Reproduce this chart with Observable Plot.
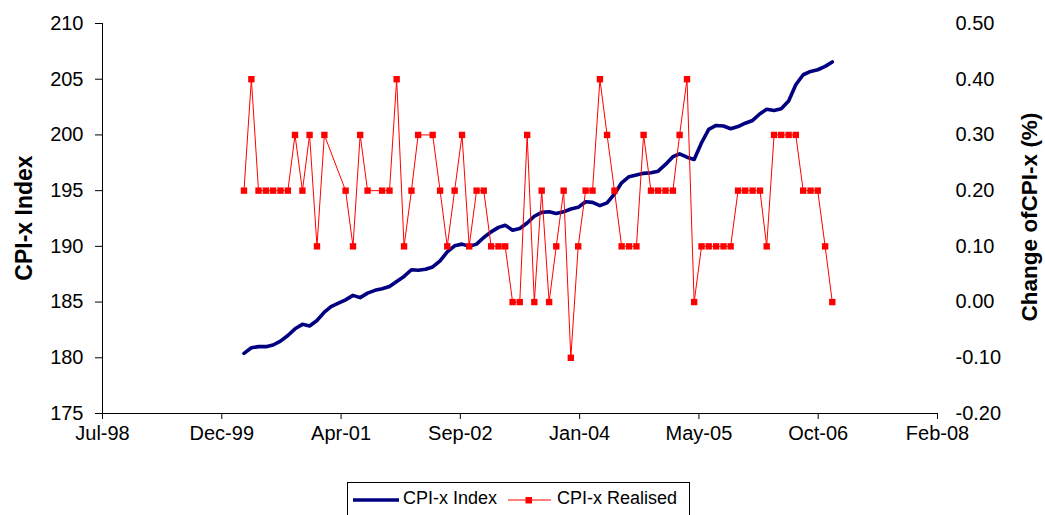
<!DOCTYPE html>
<html>
<head>
<meta charset="utf-8">
<script src="https://cdn.jsdelivr.net/npm/d3@7"></script>
<script src="https://cdn.jsdelivr.net/npm/@observablehq/plot@0.6"></script>
<style>
  html, body { margin: 0; padding: 0; background: #fff; }
  #wrap { position: relative; width: 1045px; height: 515px; overflow: hidden; font-family: Arial, "Liberation Sans", sans-serif; }
  #wrap svg { position: absolute; left: 0; top: 0; }
  .ytitle { position: absolute; transform: translate(-50%, -50%) rotate(-90deg); white-space: nowrap; font-weight: bold; color: #000; }
  #legend { position: absolute; left: 347px; top: 482px; width: 341px; height: 40px; border: 1px solid #000; background: #fff; font-size: 18px; }
  #legend .t { position: absolute; top: 5px; white-space: nowrap; color: #000; }
  #legend svg { position: absolute; left: 0; top: 0; }
</style>
</head>
<body>
<div id="wrap"></div>
<script>
// ---- data ----
const months = [
  "2000-03","2000-04","2000-05","2000-06","2000-07","2000-08","2000-09","2000-10","2000-11","2000-12",
  "2001-01","2001-02","2001-03","2001-04","2001-05","2001-06","2001-07","2001-08","2001-09","2001-10","2001-11","2001-12",
  "2002-01","2002-02","2002-03","2002-04","2002-05","2002-06","2002-07","2002-08","2002-09","2002-10","2002-11","2002-12",
  "2003-01","2003-02","2003-03","2003-04","2003-05","2003-06","2003-07","2003-08","2003-09","2003-10","2003-11","2003-12",
  "2004-01","2004-02","2004-03","2004-04","2004-05","2004-06","2004-07","2004-08","2004-09","2004-10","2004-11","2004-12",
  "2005-01","2005-02","2005-03","2005-04","2005-05","2005-06","2005-07","2005-08","2005-09","2005-10","2005-11","2005-12",
  "2006-01","2006-02","2006-03","2006-04","2006-05","2006-06","2006-07","2006-08","2006-09","2006-10","2006-11","2006-12"
];
const cpiIndex = [
  180.4, 180.9, 181.0, 181.0, 181.15, 181.5, 182.0, 182.6, 183.0, 182.85,
  183.35, 184.1, 184.6, 184.9, 185.2, 185.6, 185.4, 185.8, 186.05, 186.2, 186.4, 186.85,
  187.3, 187.9, 187.85, 187.95, 188.15, 188.7, 189.5, 190.05, 190.2, 190.0, 190.2, 190.8,
  191.3, 191.7, 191.9, 191.45, 191.6, 192.1, 192.7, 193.05, 193.1, 192.95, 193.1, 193.35,
  193.5, 194.0, 193.95, 193.65, 193.9, 194.7, 195.7, 196.25, 196.4, 196.55, 196.6, 196.75,
  197.35, 198.05, 198.3, 198.0, 197.8, 199.3, 200.5, 200.85, 200.8, 200.55, 200.75, 201.05,
  201.3, 201.9, 202.3, 202.2, 202.35, 203.05, 204.5, 205.4, 205.7, 205.85, 206.15, 206.55
];
const cpiRealised = [
  0.2, 0.4, 0.2, 0.2, 0.2, 0.2, 0.2, 0.3, 0.2, 0.3,
  0.1, 0.3, null, null, 0.2, 0.1, 0.3, 0.2, null, 0.2, 0.2, 0.4,
  0.1, 0.2, 0.3, null, 0.3, 0.2, 0.1, 0.2, 0.3, 0.1, 0.2, 0.2,
  0.1, 0.1, 0.1, 0.0, 0.0, 0.3, 0.0, 0.2, 0.0, 0.1, 0.2, -0.1,
  0.1, 0.2, 0.2, 0.4, 0.3, 0.2, 0.1, 0.1, 0.1, 0.3, 0.2, 0.2,
  0.2, 0.2, 0.3, 0.4, 0.0, 0.1, 0.1, 0.1, 0.1, 0.1, 0.2, 0.2,
  0.2, 0.2, 0.1, 0.3, 0.3, 0.3, 0.3, 0.2, 0.2, 0.2, 0.1, 0.0
];
const leftTicks = [175, 180, 185, 190, 195, 200, 205, 210];
const rightTicks = [-0.2, -0.1, 0.0, 0.1, 0.2, 0.3, 0.4, 0.5];
const xAxisStart = "1998-07-24";
const xAxisStepDays = 500;
const xAxisSteps = 7;
const leftTitle = "CPI-x Index";
const rightTitle = "Change ofCPI-x (%)";
const seriesNames = ["CPI-x Index", "CPI-x Realised"];

// ---- build ----
const parseMonth = d3.utcParse("%Y-%m");
const dates = months.map(m => d3.utcDay.offset(parseMonth(m), 7));
const x0 = d3.utcParse("%Y-%m-%d")(xAxisStart);
const xTicks = d3.range(xAxisSteps + 1).map(k => d3.utcDay.offset(x0, k * xAxisStepDays));
const xDomain = [xTicks[0], xTicks[xTicks.length - 1]];

// secondary axis mapped onto primary scale
const [lMin, lMax] = [leftTicks[0], leftTicks[leftTicks.length - 1]];
const [rMin, rMax] = [rightTicks[0], rightTicks[rightTicks.length - 1]];
const toLeft = v => lMin + (v - rMin) * (lMax - lMin) / (rMax - rMin);
const toRight = v => rMin + (v - lMin) * (rMax - rMin) / (lMax - lMin);

const idx = dates.map((d, i) => ({date: d, value: cpiIndex[i]}));
const real = dates.map((d, i) => ({date: d, value: cpiRealised[i]})).filter(d => d.value != null);

const chart = Plot.plot({
  width: 1045,
  height: 470,
  marginLeft: 102,
  marginRight: 108,
  marginTop: 23,
  marginBottom: 57,
  style: {fontFamily: "Arial, 'Liberation Sans', sans-serif", fontSize: "20px", color: "#000", background: "transparent", overflow: "visible"},
  x: {type: "utc", domain: xDomain},
  y: {domain: [lMin, lMax]},
  marks: [
    Plot.axisY({ticks: leftTicks, tickSize: 7, tickPadding: 12, label: null, stroke: "#000", fill: "#000"}),
    Plot.axisY({anchor: "right", ticks: rightTicks.map(toLeft), tickSize: 0, tickPadding: 18, label: null,
      textAnchor: "start", fill: "#000", tickFormat: v => toRight(v).toFixed(2).replace("-0.00", "0.00")}),
    Plot.axisX({ticks: xTicks, tickSize: 6, tickPadding: 6, label: null, stroke: "#000", fill: "#000",
      tickFormat: d3.utcFormat("%b-%y")}),
    Plot.ruleX([xDomain[0]], {stroke: "#000"}),
    Plot.ruleY([lMin], {stroke: "#000"}),
    Plot.line(idx, {x: "date", y: "value", stroke: "#000080", strokeWidth: 3.6, curve: "linear"}),
    Plot.line(real, {x: "date", y: d => toLeft(d.value), stroke: "#ff0000", strokeWidth: 1}),
    Plot.dot(real, {x: "date", y: d => toLeft(d.value), symbol: "square", r: 3.6, fill: "#ff0000", stroke: "none"})
  ]
});

const wrap = document.getElementById("wrap");
wrap.appendChild(chart);

const lt = document.createElement("div");
lt.className = "ytitle";
lt.style.cssText = "left:24px;top:218px;font-size:23px;";
lt.textContent = leftTitle;
wrap.appendChild(lt);

const rt = document.createElement("div");
rt.className = "ytitle";
rt.style.cssText = "left:1030px;top:217px;font-size:22.5px;";
rt.textContent = rightTitle;
wrap.appendChild(rt);

// legend
const lg = document.createElement("div");
lg.id = "legend";
lg.innerHTML = `
<svg width="341" height="40">
  <line x1="5" x2="51" y1="17" y2="17" stroke="#000080" stroke-width="3.6"/>
  <line x1="160" x2="203" y1="17" y2="17" stroke="#ff0000" stroke-width="1"/>
  <rect x="177.5" y="14" width="6.5" height="6.5" fill="#ff0000"/>
</svg>
<div class="t" style="left:55px">${seriesNames[0]}</div>
<div class="t" style="left:209px">${seriesNames[1]}</div>`;
wrap.appendChild(lg);
</script>
</body>
</html>
